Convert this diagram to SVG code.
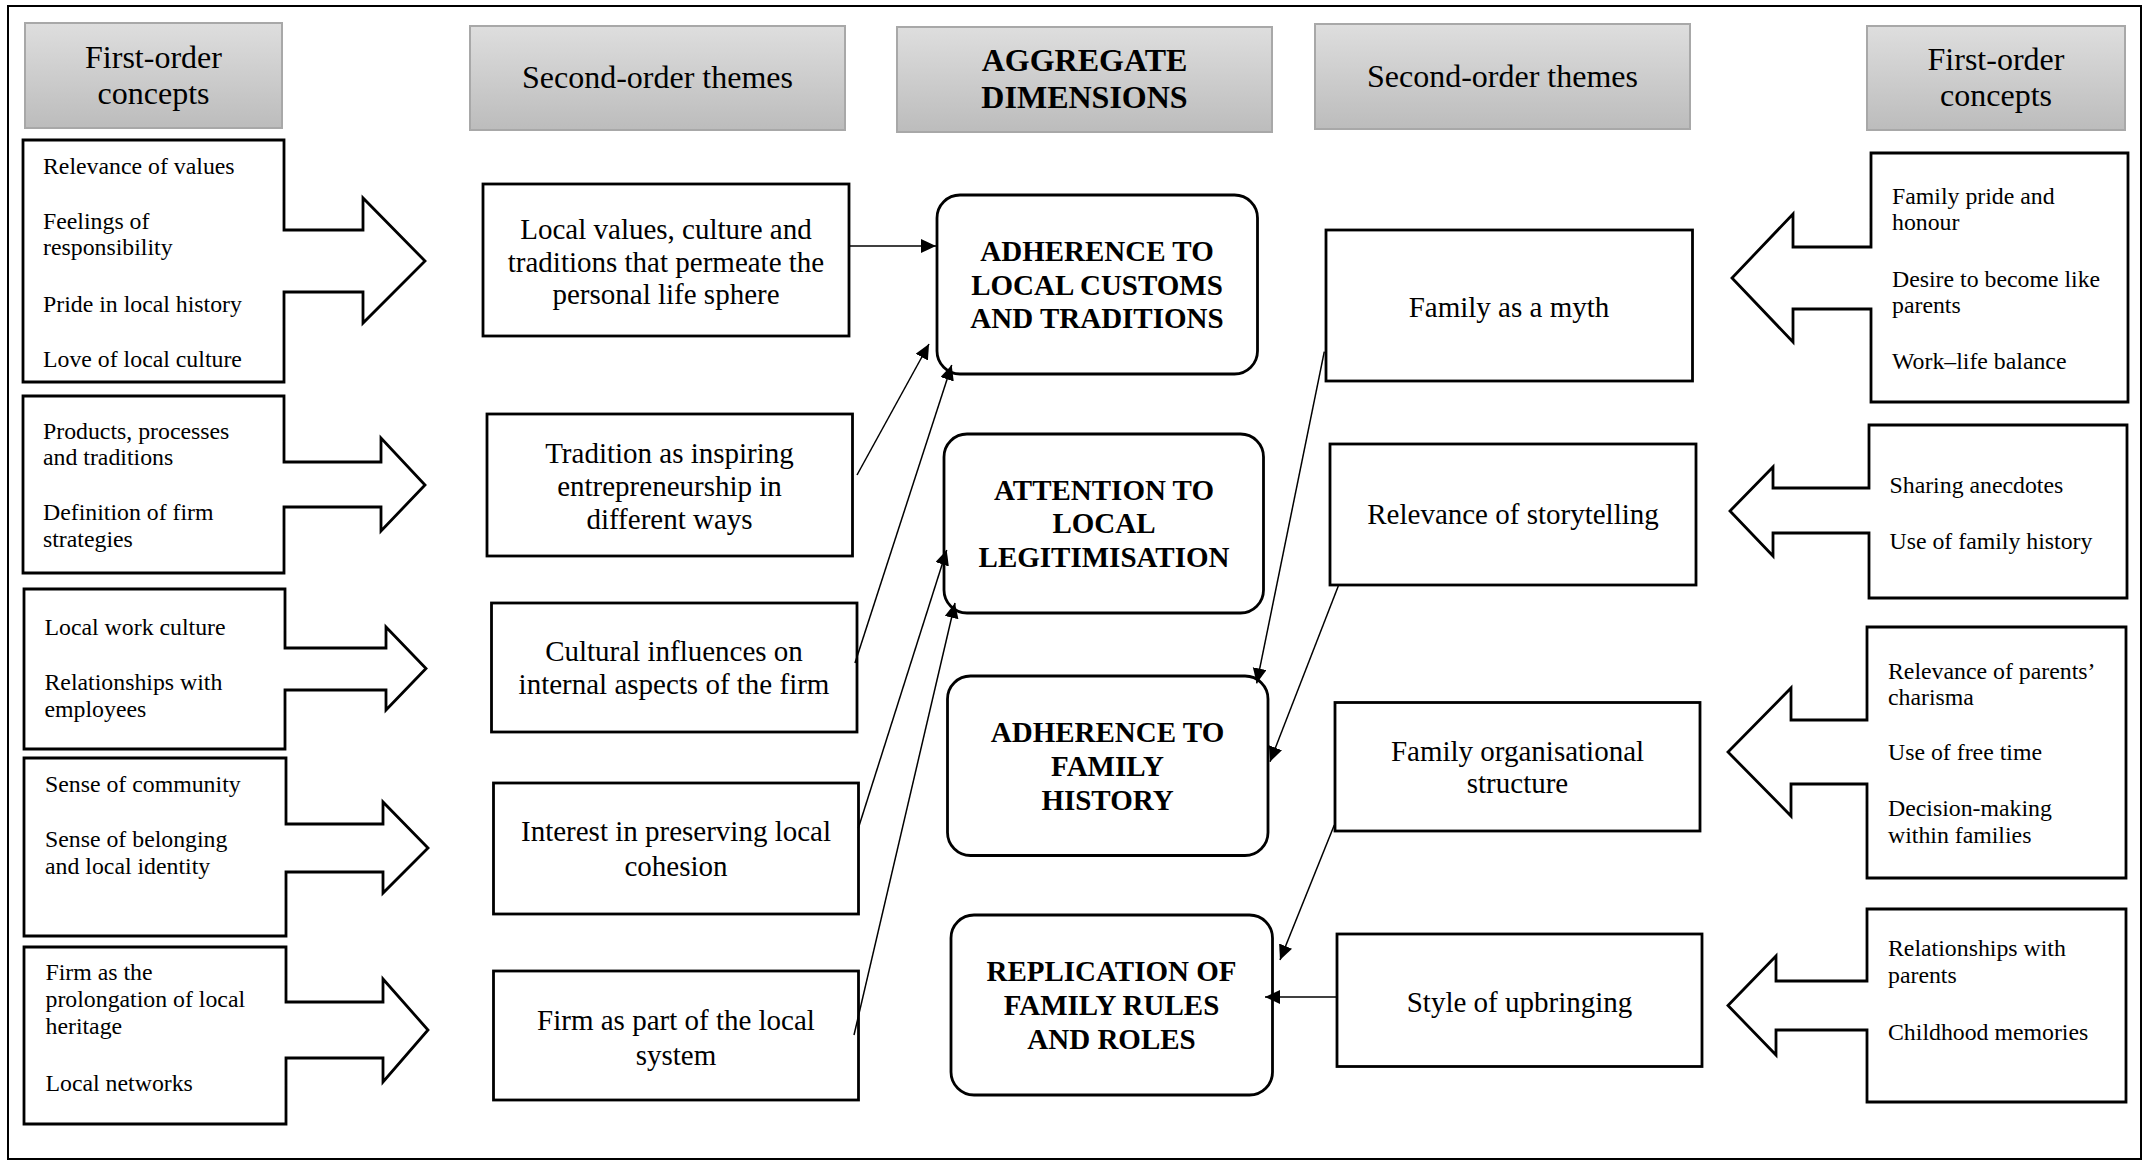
<svg xmlns="http://www.w3.org/2000/svg" width="2149" height="1162" viewBox="0 0 2149 1162">
<defs>
<linearGradient id="hg" x1="0" y1="0" x2="0" y2="1">
<stop offset="0" stop-color="#dedede"/>
<stop offset="1" stop-color="#bcbcbc"/>
</linearGradient>
<marker id="ah" markerUnits="userSpaceOnUse" markerWidth="16" markerHeight="15" refX="15" refY="7" orient="auto">
<path d="M0,0 L15,7 L0,14 z" fill="#000"/>
</marker>
</defs>
<style>
.hdr{fill:url(#hg);stroke:#a8a8a8;stroke-width:2}
.ht{font-family:"Liberation Serif","Times New Roman",serif;font-size:32px;text-anchor:middle;fill:#000}
.htb{font-weight:bold}
.box{fill:#fff;stroke:#000;stroke-width:2.8}
.call{fill:#fff;stroke:#000;stroke-width:2.8;stroke-linejoin:miter}
.agg{fill:#fff;stroke:#000;stroke-width:2.8}
.ct{font-family:"Liberation Serif","Times New Roman",serif;font-size:23.8px;fill:#000}
.tt{font-family:"Liberation Serif","Times New Roman",serif;font-size:29px;text-anchor:middle;fill:#000}
.at{font-family:"Liberation Serif","Times New Roman",serif;font-size:29px;font-weight:bold;text-anchor:middle;fill:#000}
.con{stroke:#000;stroke-width:1.5;fill:none;marker-end:url(#ah)}
</style>
<rect x="8" y="6" width="2133" height="1153" fill="#fff" stroke="#000" stroke-width="2"/>

<g id="headers">
<g id="h-first-left"><rect class="hdr" x="25" y="23" width="257" height="105"/><text class="ht" x="153.5" y="68">First-order</text><text class="ht" x="153.5" y="104">concepts</text></g>
<g id="h-second-left"><rect class="hdr" x="470" y="26" width="375" height="104"/><text class="ht" x="657.5" y="88">Second-order themes</text></g>
<g id="h-aggregate"><rect class="hdr" x="897" y="27" width="375" height="105"/><text class="ht htb" x="1084.5" y="71">AGGREGATE</text><text class="ht htb" x="1084.5" y="108">DIMENSIONS</text></g>
<g id="h-second-right"><rect class="hdr" x="1315" y="24" width="375" height="105"/><text class="ht" x="1502.5" y="87">Second-order themes</text></g>
<g id="h-first-right"><rect class="hdr" x="1867" y="26" width="258" height="104"/><text class="ht" x="1996" y="70">First-order</text><text class="ht" x="1996" y="106">concepts</text></g>
</g>

<g id="L1"><polygon class="call" points="23,140 284,140 284,230 363,230 363,198 425,261 363,323 363,292 284,292 284,382 23,382"/>
<text class="ct" x="43" y="174">Relevance of values</text>
<text class="ct" x="43" y="229">Feelings of</text>
<text class="ct" x="43" y="255">responsibility</text>
<text class="ct" x="43" y="312">Pride in local history</text>
<text class="ct" x="43" y="367">Love of local culture</text></g>

<g id="L2"><polygon class="call" points="23,396 284,396 284,462 381,462 381,438 425,485 381,531 381,507 284,507 284,573 23,573"/>
<text class="ct" x="43" y="439">Products, processes</text>
<text class="ct" x="43" y="465">and traditions</text>
<text class="ct" x="43" y="520">Definition of firm</text>
<text class="ct" x="43" y="547">strategies</text></g>

<g id="L3"><polygon class="call" points="24,589 285,589 285,648 386,648 386,627 426,668.5 386,710 386,690 285,690 285,749 24,749"/>
<text class="ct" x="44.5" y="635">Local work culture</text>
<text class="ct" x="44.5" y="690">Relationships with</text>
<text class="ct" x="44.5" y="717">employees</text></g>

<g id="L4"><polygon class="call" points="24,758 286,758 286,824 383,824 383,802 428,848 383,893 383,872 286,872 286,936 24,936"/>
<text class="ct" x="45" y="792">Sense of community</text>
<text class="ct" x="45" y="847">Sense of belonging</text>
<text class="ct" x="45" y="874">and local identity</text></g>

<g id="L5"><polygon class="call" points="24,947 286,947 286,1002 383,1002 383,979 428,1030 383,1082 383,1058 286,1058 286,1124 24,1124"/>
<text class="ct" x="45.5" y="980">Firm as the</text>
<text class="ct" x="45.5" y="1007">prolongation of local</text>
<text class="ct" x="45.5" y="1034">heritage</text>
<text class="ct" x="45.5" y="1091">Local networks</text></g>

<g id="T1"><rect class="box" x="483" y="184" width="366" height="152"/>
<text class="tt" x="666" y="239">Local values, culture and</text>
<text class="tt" x="666" y="272">traditions that permeate the</text>
<text class="tt" x="666" y="304">personal life sphere</text></g>
<g id="T2"><rect class="box" x="487" y="414" width="365.5" height="142"/>
<text class="tt" x="669.5" y="463">Tradition as inspiring</text>
<text class="tt" x="669.5" y="496">entrepreneurship in</text>
<text class="tt" x="669.5" y="529">different ways</text></g>
<g id="T3"><rect class="box" x="491.5" y="603" width="365.5" height="129"/>
<text class="tt" x="674" y="661">Cultural influences on</text>
<text class="tt" x="674" y="694">internal aspects of the firm</text></g>
<g id="T4"><rect class="box" x="493.5" y="783" width="365" height="131"/>
<text class="tt" x="676" y="841">Interest in preserving local</text>
<text class="tt" x="676" y="876">cohesion</text></g>
<g id="T5"><rect class="box" x="493.5" y="971" width="365" height="129"/>
<text class="tt" x="676" y="1030">Firm as part of the local</text>
<text class="tt" x="676" y="1065">system</text></g>

<g id="A1"><rect class="agg" x="937" y="195" width="320.5" height="179" rx="23"/>
<text class="at" x="1097" y="261">ADHERENCE TO</text>
<text class="at" x="1097" y="295">LOCAL CUSTOMS</text>
<text class="at" x="1097" y="328">AND TRADITIONS</text></g>
<g id="A2"><rect class="agg" x="944" y="434" width="319.5" height="179" rx="23"/>
<text class="at" x="1104" y="500">ATTENTION TO</text>
<text class="at" x="1104" y="533">LOCAL</text>
<text class="at" x="1104" y="567">LEGITIMISATION</text></g>
<g id="A3"><rect class="agg" x="947.5" y="676" width="320.5" height="179.5" rx="23"/>
<text class="at" x="1107.5" y="742">ADHERENCE TO</text>
<text class="at" x="1107.5" y="776">FAMILY</text>
<text class="at" x="1107.5" y="810">HISTORY</text></g>
<g id="A4"><rect class="agg" x="951" y="915" width="321.5" height="180" rx="23"/>
<text class="at" x="1111.5" y="981">REPLICATION OF</text>
<text class="at" x="1111.5" y="1015">FAMILY RULES</text>
<text class="at" x="1111.5" y="1049">AND ROLES</text></g>

<g id="R1"><rect class="box" x="1326" y="230" width="366.5" height="151"/>
<text class="tt" x="1509" y="317">Family as a myth</text></g>
<g id="R2"><rect class="box" x="1330" y="444" width="366" height="141"/>
<text class="tt" x="1513" y="524">Relevance of storytelling</text></g>
<g id="R3"><rect class="box" x="1335" y="702.5" width="365" height="128.5"/>
<text class="tt" x="1517.5" y="761">Family organisational</text>
<text class="tt" x="1517.5" y="793">structure</text></g>
<g id="R4"><rect class="box" x="1337" y="934" width="365" height="132.5"/>
<text class="tt" x="1519.5" y="1012">Style of upbringing</text></g>

<g id="RF1"><polygon class="call" points="2128,153 1871,153 1871,247 1793,247 1793,214 1732,278 1793,342 1793,309 1871,309 1871,402 2128,402"/>
<text class="ct" x="1892" y="204">Family pride and</text>
<text class="ct" x="1892" y="230">honour</text>
<text class="ct" x="1892" y="287">Desire to become like</text>
<text class="ct" x="1892" y="313">parents</text>
<text class="ct" x="1892" y="369">Work–life balance</text></g>
<g id="RF2"><polygon class="call" points="2127,425 1869,425 1869,488 1773,488 1773,467 1730,511 1773,556 1773,533 1869,533 1869,598 2127,598"/>
<text class="ct" x="1889.5" y="493">Sharing anecdotes</text>
<text class="ct" x="1889.5" y="549">Use of family history</text></g>
<g id="RF3"><polygon class="call" points="2126,627 1867,627 1867,720 1791,720 1791,688 1728,752 1791,816 1791,784 1867,784 1867,878 2126,878"/>
<text class="ct" x="1888" y="679">Relevance of parents’</text>
<text class="ct" x="1888" y="705">charisma</text>
<text class="ct" x="1888" y="760">Use of free time</text>
<text class="ct" x="1888" y="816">Decision-making</text>
<text class="ct" x="1888" y="843">within families</text></g>
<g id="RF4"><polygon class="call" points="2126,909 1867,909 1867,981 1776,981 1776,956 1728,1005.5 1776,1055 1776,1030 1867,1030 1867,1102 2126,1102"/>
<text class="ct" x="1888" y="956">Relationships with</text>
<text class="ct" x="1888" y="983">parents</text>
<text class="ct" x="1888" y="1040">Childhood memories</text></g>

<g id="connectors">
<line class="con" x1="849" y1="246" x2="936" y2="246"/>
<line class="con" x1="857" y1="475" x2="929" y2="344"/>
<line class="con" x1="855" y1="663" x2="951.7" y2="365"/>
<line class="con" x1="858.3" y1="828.3" x2="946.7" y2="550"/>
<line class="con" x1="854" y1="1035" x2="955" y2="603"/>
<line class="con" x1="1324.3" y1="351.7" x2="1256.7" y2="683.3"/>
<line class="con" x1="1338.3" y1="586" x2="1270" y2="761.7"/>
<line class="con" x1="1334.3" y1="825" x2="1280" y2="960"/>
<line class="con" x1="1337" y1="997" x2="1265" y2="997"/>
</g>
</svg>
